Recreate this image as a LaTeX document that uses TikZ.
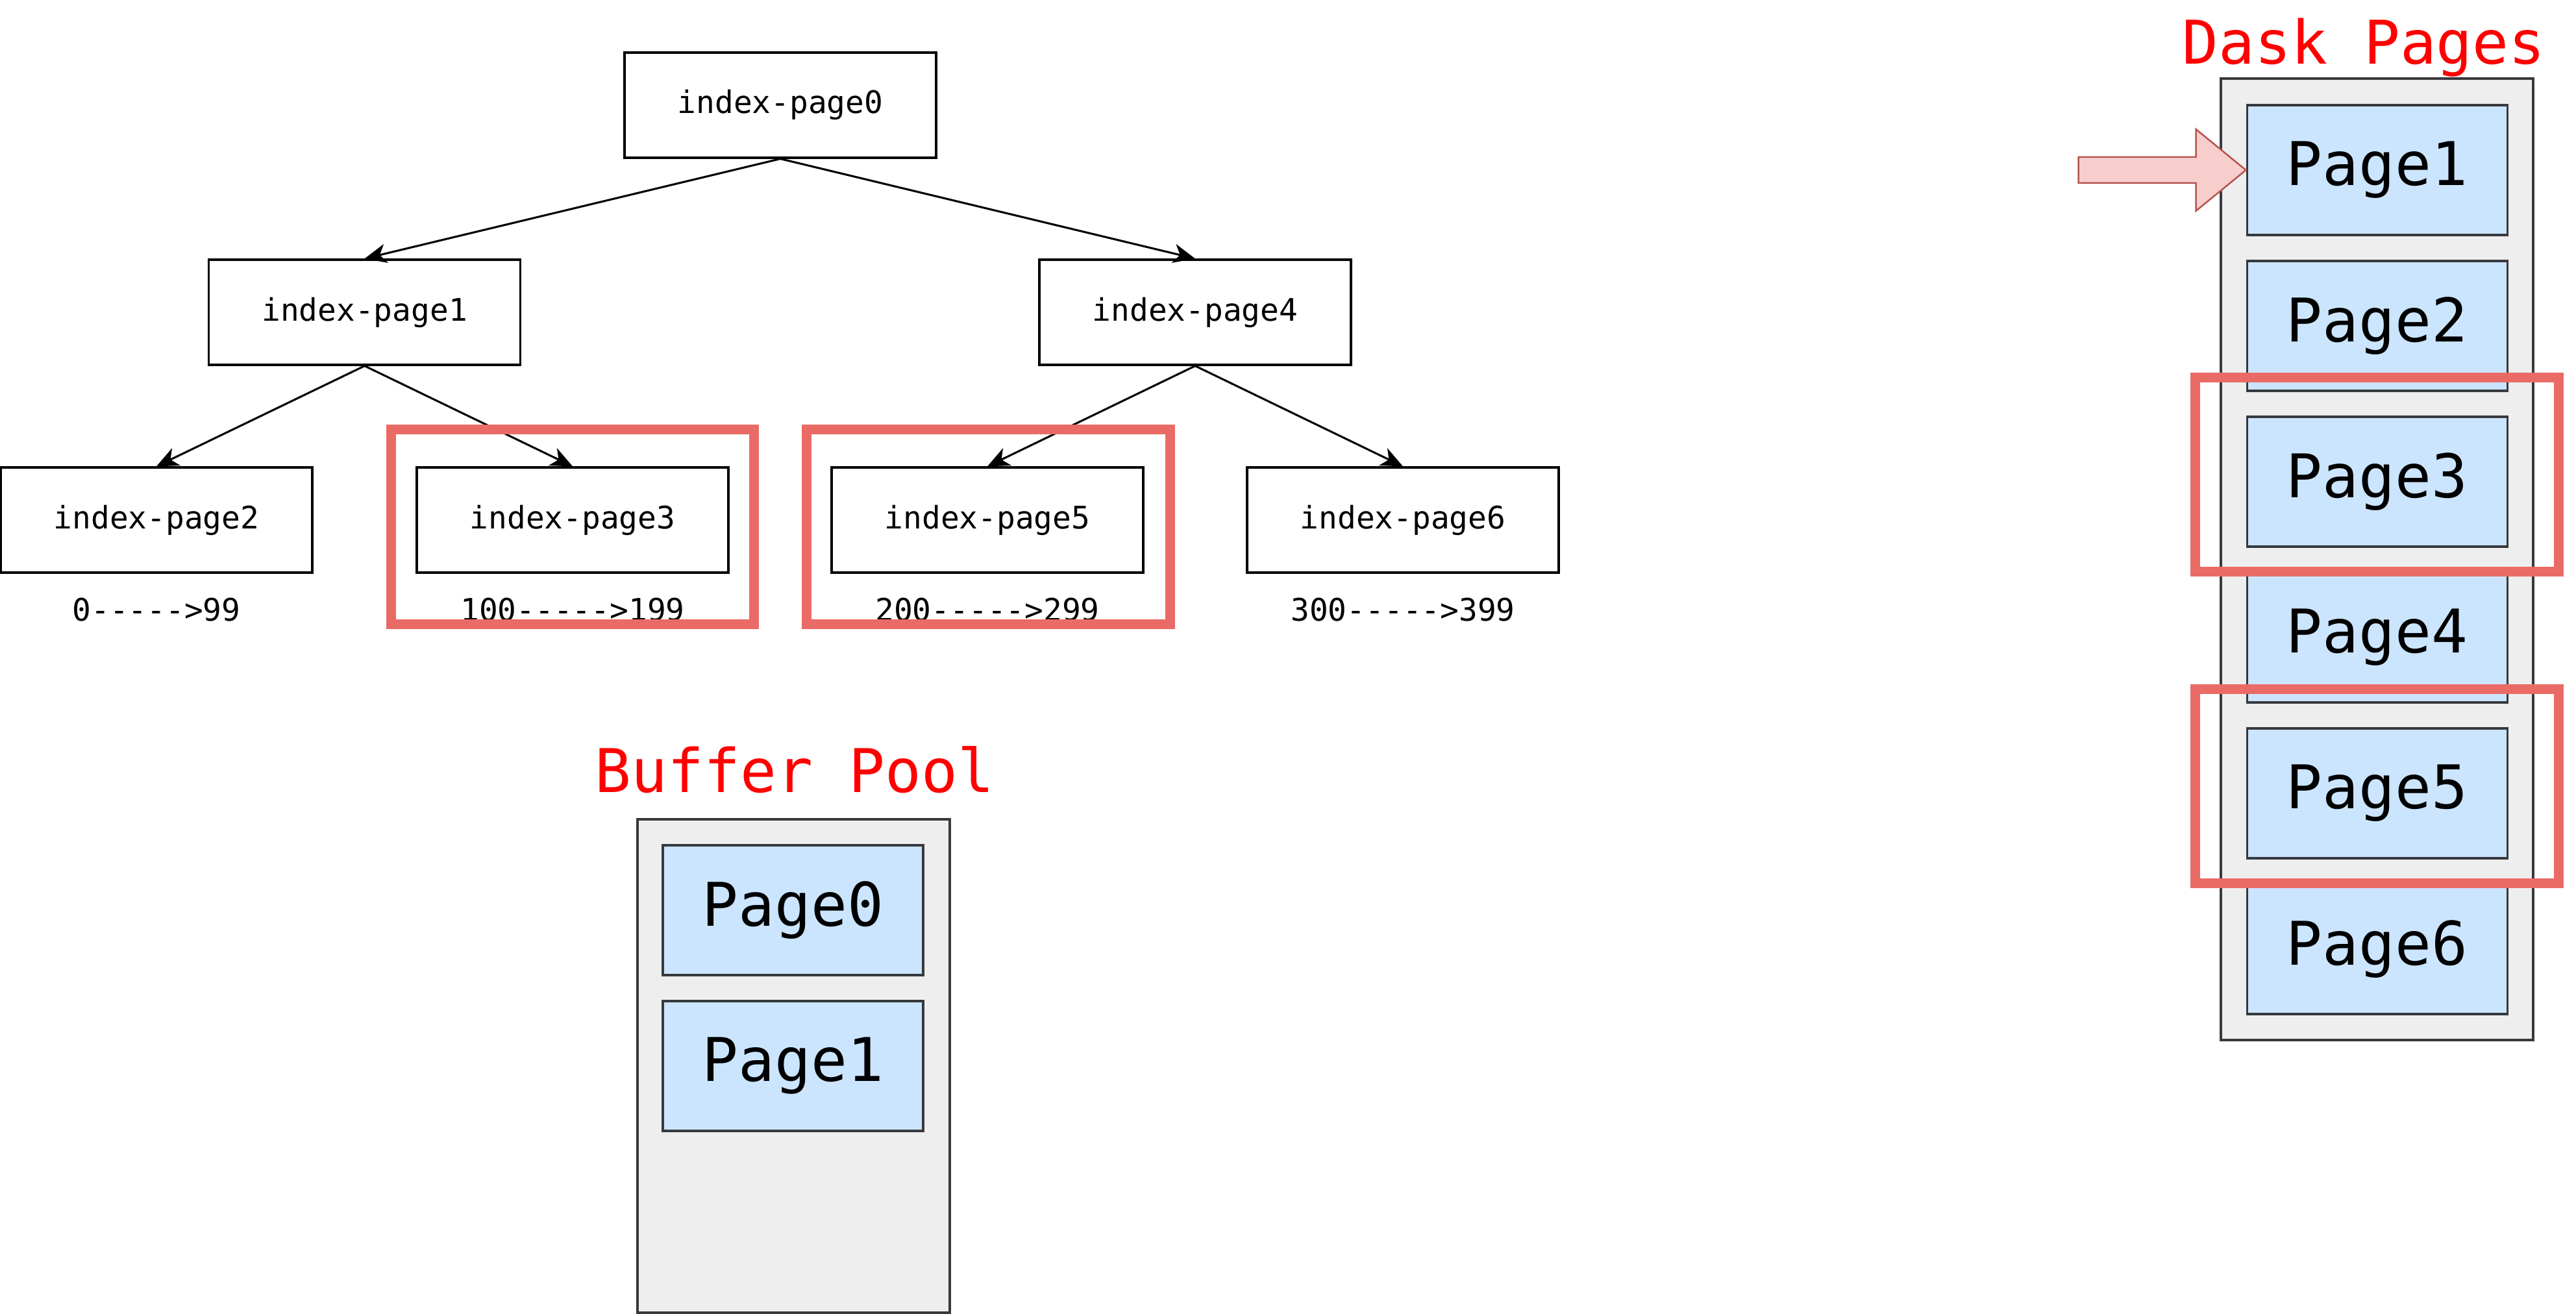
\documentclass[tikz,border=0pt]{standalone}
\usepackage{fontspec}
\usepackage{tikz}
\usetikzlibrary{arrows.meta}
\newfontfamily\monofont{DejaVu Sans Mono}
\definecolor{hilitered}{HTML}{EA6B66}
\definecolor{titlered}{HTML}{FF0000}
\definecolor{poolgray}{HTML}{EEEEEE}
\definecolor{edgegray}{HTML}{36393D}
\definecolor{pageblue}{HTML}{CCE5FF}
\definecolor{arrowpink}{HTML}{F8CECC}
\definecolor{arrowedge}{HTML}{B85450}

\begin{document}
\begin{tikzpicture}[
  idxbox/.style={draw=black, line width=2.3pt, minimum width=12cm, minimum height=4.05cm,
    inner sep=0pt, font=\monofont\fontsize{34}{40}\selectfont},
  rangelabel/.style={inner sep=0pt, font=\monofont\fontsize{34}{40}\selectfont},
  treearrow/.style={line width=2.2pt, -{Stealth[length=24pt,width=21pt,inset=7pt]}},
  hilite/.style={draw=hilitered, line width=0.375cm},
  poolbox/.style={draw=edgegray, fill=poolgray, line width=2.3pt},
  pagebox/.style={draw=edgegray, fill=pageblue, line width=2.3pt, minimum width=10.025cm,
    minimum height=5cm, inner sep=0pt, font=\monofont\fontsize{66}{76}\selectfont},
  titletext/.style={anchor=base, inner sep=0pt, text=titlered, font=\monofont\fontsize{66}{76}\selectfont}
]
\useasboundingbox (0,0) rectangle (99.2,50.6);

% Index tree
\node[idxbox] (ip0) at (30.05,46.55) {index-page0};
\node[idxbox] (ip1) at (14.04,38.575) {index-page1};
\node[idxbox] (ip4) at (46.025,38.575) {index-page4};
\node[idxbox] (ip2) at (6.025,30.575) {index-page2};
\node[idxbox] (ip3) at (22.05,30.575) {index-page3};
\node[idxbox] (ip5) at (38.025,30.575) {index-page5};
\node[idxbox] (ip6) at (54.025,30.575) {index-page6};

\draw[treearrow] (ip0.south) -- (ip1.north);
\draw[treearrow] (ip0.south) -- (ip4.north);
\draw[treearrow] (ip1.south) -- (ip2.north);
\draw[treearrow] (ip1.south) -- (ip3.north);
\draw[treearrow] (ip4.south) -- (ip5.north);
\draw[treearrow] (ip4.south) -- (ip6.north);

% Key ranges
\node[rangelabel] (rg2) at (6.025,27.125) {0----->99};
\node[rangelabel] (rg3) at (22.05,27.125) {100----->199};
\node[rangelabel] (rg5) at (38.025,27.125) {200----->299};
\node[rangelabel] (rg6) at (54.025,27.125) {300----->399};

\draw[hilite] (15.05,34.05) rectangle (29.025,26.55);
\draw[hilite] (31.05,34.05) rectangle (45.05,26.55);

% Buffer pool
\node[titletext] (bptitle) at (30.6,20.075) {Buffer Pool};
\draw[poolbox] (24.55,19.05) rectangle (36.575,0.05);
\node[pagebox] (bp0) at (30.54,15.55) {Page0};
\node[pagebox] (bp1) at (30.54,9.55) {Page1};

% Disk pages
\node[titletext] (dptitle) at (91.03,48.125) {Dask Pages};
\draw[poolbox] (85.525,47.575) rectangle (97.55,10.55);
\foreach \i in {1,...,6} {
  \node[pagebox] (dp\i) at (91.54,{44.05-6*(\i-1)}) {Page\i};
}

% Read pointer
\draw[fill=arrowpink, draw=arrowedge, line width=1.8pt, line join=miter]
  (dp1.west) -- ++(-1.925,1.575) -- ++(0,-1.075) -- ++(-4.525,0)
  -- ++(0,-1) -- ++(4.525,0) -- ++(0,-1.075) -- cycle;

\draw[hilite] (84.525,36.05) rectangle (98.525,28.575);
\draw[hilite] (84.525,24.05) rectangle (98.525,16.575);

\end{tikzpicture}
\end{document}
